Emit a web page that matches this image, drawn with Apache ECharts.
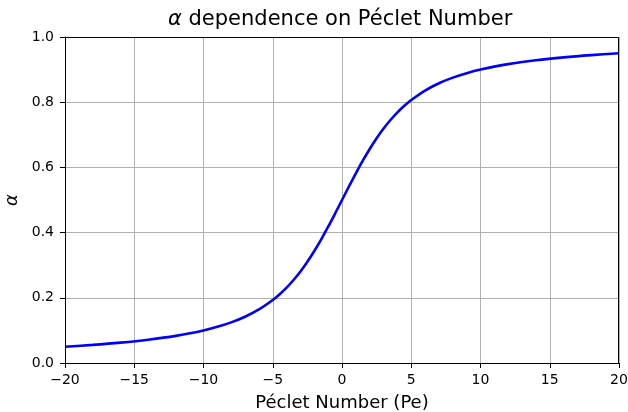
<!DOCTYPE html>
<html>
<head>
<meta charset="utf-8">
<script src="https://cdn.jsdelivr.net/npm/echarts@6/dist/echarts.min.js"></script>
<style>
  html, body { margin: 0; padding: 0; background: #fff; }
  #chart { width: 628px; height: 412px; }
</style>
</head>
<body>
<div id="chart"></div>
<script>
// Péclet numbers and alpha values
const peValues = [-20, -18, -16, -14, -12, -10, -9, -8, -7, -6, -5, -4.5, -4, -3.5, -3, -2.5, -2, -1.5, -1, -0.5,
  0, 0.5, 1, 1.5, 2, 2.5, 3, 3.5, 4, 4.5, 5, 6, 7, 8, 9, 10, 12, 14, 16, 18, 20]
const alphaValues = [0.050, 0.0556, 0.0625, 0.0714, 0.0833, 0.100, 0.111, 0.1247, 0.1419, 0.1642, 0.1932, 0.211, 0.2313, 0.2546, 0.2809, 0.3106, 0.3435, 0.3794, 0.418, 0.4585,
  0.500, 0.5415, 0.582, 0.6206, 0.6565, 0.6894, 0.7191, 0.7454, 0.7687, 0.789, 0.8068, 0.8358, 0.8581, 0.8753, 0.889, 0.900, 0.9167, 0.9286, 0.9375, 0.9444, 0.950]

const font = 'DejaVu Sans'
const chart = echarts.init(document.getElementById('chart'))

const axisCommon = {
  axisLine: { show: true, onZero: false, lineStyle: { color: '#000', width: 1 } },
  axisTick: { show: true, inside: false, length: 5, lineStyle: { color: '#000', width: 1 } },
  splitLine: { show: true, lineStyle: { color: '#b0b0b0', width: 1 } },
  axisLabel: { color: '#000', fontSize: 14, fontFamily: font },
  nameTextStyle: { color: '#000', fontSize: 18, fontFamily: font }
}

chart.setOption({
  animation: false,
  backgroundColor: '#fff',
  title: {
    text: '{a|α} dependence on Péclet Number',
    left: 163,
    top: 4,
    textStyle: {
      color: '#000',
      fontSize: 21,
      fontWeight: 'normal',
      fontFamily: font,
      rich: {
        a: { fontStyle: 'italic', fontSize: 21, fontFamily: font, color: '#000' }
      }
    }
  },
  grid: { left: 65, right: 9, top: 37, bottom: 49, outerBoundsMode: 'none' },
  xAxis: {
    type: 'value',
    min: -20,
    max: 20,
    interval: 5,
    name: 'Péclet Number (Pe)',
    nameLocation: 'middle',
    nameGap: 31,
    ...axisCommon,
    axisLabel: {
      ...axisCommon.axisLabel,
      margin: 10,
      formatter: v => String(v).replace('-', '\u2212')
    }
  },
  yAxis: {
    type: 'value',
    min: 0,
    max: 1,
    interval: 0.2,
    name: 'α',
    nameLocation: 'middle',
    nameGap: 39,
    ...axisCommon,
    nameTextStyle: { ...axisCommon.nameTextStyle, fontStyle: 'italic' },
    axisLabel: {
      ...axisCommon.axisLabel,
      margin: 11,
      formatter: v => v.toFixed(1)
    }
  },
  series: [{
    type: 'line',
    data: peValues.map((p, i) => [p, alphaValues[i]]),
    showSymbol: false,
    smooth: 0.3,
    lineStyle: { color: '#0000ff', width: 2.6 },
    itemStyle: { color: '#0000ff' }
  }],
  graphic: [{
    type: 'rect',
    shape: { x: 65.5, y: 37.5, width: 553, height: 326 },
    style: { fill: null, stroke: '#000', lineWidth: 1 },
    silent: true,
    z: 10
  }]
})
</script>
</body>
</html>
